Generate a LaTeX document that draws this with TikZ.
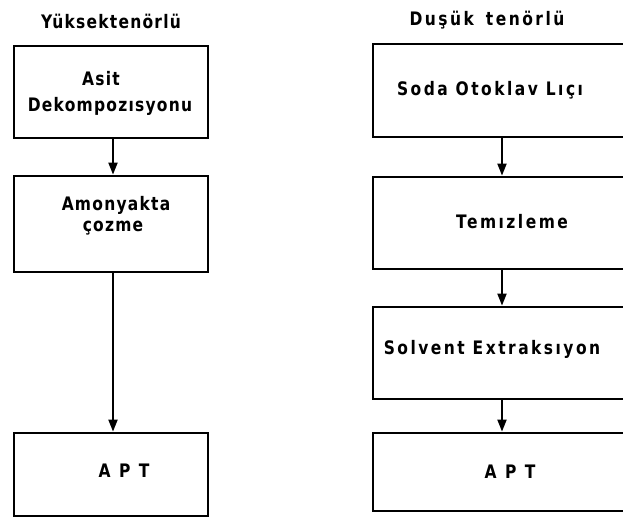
\documentclass[tikz,border=0pt]{standalone}
\usepackage{fontspec}
\setmainfont{DejaVu Sans}[LetterSpace=8]
\usetikzlibrary{arrows.meta}
% tall narrow lettering
\newcommand{\tallx}[1]{\scalebox{1}[1.2]{#1}}
\begin{document}
\begin{tikzpicture}[x=1pt,y=-1pt,
  box/.style={draw, line width=2.8pt, inner sep=0pt},
  flow/.style={line width=1.9pt, -{Triangle[length=12pt,width=9pt]}},
  lbl/.style={inner sep=0pt, font=\fontsize{15.5}{18}\bfseries\selectfont},
  wide/.style={inner sep=0pt, font=\fontsize{15.5}{18}\bfseries\selectfont\addfontfeature{LetterSpace=16}},
  spaced/.style={inner sep=0pt, font=\fontsize{15.5}{18}\bfseries\selectfont\addfontfeature{LetterSpace=55}}]
\useasboundingbox (0,0) rectangle (623,520);

% headings
\node[lbl] (h1) at (111,21) {\tallx{Yüksektenörlü}};
\node[wide] (h2) at (487,20) {\tallx{Duşük\hspace{4pt} tenörlü}};

% left column
\node[box, minimum width=194pt, minimum height=92pt] (asit) at (111,92) {};
\node[box, minimum width=194pt, minimum height=96pt] (amon) at (111,224) {};
\node[box, minimum width=194pt, minimum height=83pt] (apt1) at (111,474.5) {};
\node[lbl] (t1a) at (101,79) {\tallx{Asit}};
\node[lbl] (t1b) at (110,106) {\tallx{Dekompozısyonu}};
\node[lbl] (t2a) at (116,205) {\tallx{Amonyakta}};
\node[lbl] (t2b) at (113,228) {\tallx{çozme}};
\node[spaced] (t3) at (124,471) {\tallx{APT}};

% right column (boxes run past the right edge)
\node[box, minimum width=277pt, minimum height=93pt] (soda) at (511.5,90.5) {};
\node[box, minimum width=277pt, minimum height=92pt] (temiz) at (511.5,223) {};
\node[box, minimum width=277pt, minimum height=92pt] (solv) at (511.5,353) {};
\node[box, minimum width=277pt, minimum height=78pt] (apt2) at (511.5,472) {};
\node[wide] (r1) at (490,90) {\tallx{Soda Otoklav Lıçı}};
\node[wide] (r2) at (512,222) {\tallx{Temızleme}};
\node[wide] (r3) at (492,349) {\tallx{Solvent Extraksıyon}};
\node[spaced] (r4) at (510,472) {\tallx{APT}};

% arrows
\coordinate (lc) at (113,0);
\coordinate (rc) at (502,0);
\draw[flow] (asit.south -| lc) -- (amon.north -| lc);
\draw[flow] (amon.south -| lc) -- (apt1.north -| lc);
\draw[flow] (soda.south -| rc) -- (temiz.north -| rc);
\draw[flow] (temiz.south -| rc) -- (solv.north -| rc);
\draw[flow] (solv.south -| rc) -- (apt2.north -| rc);
\end{tikzpicture}
\end{document}
